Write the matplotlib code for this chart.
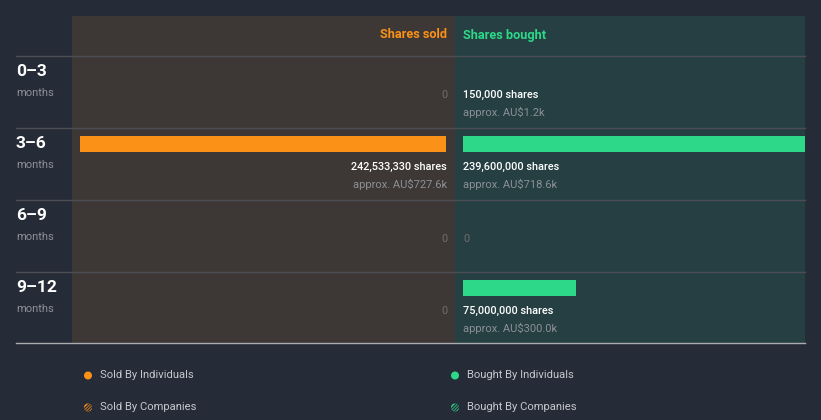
import matplotlib
matplotlib.use("Agg")
import matplotlib.pyplot as plt
from matplotlib.patches import Rectangle, Circle

plt.rcParams['font.family'] = ['Roboto', 'DejaVu Sans']

# ---- data ----
periods = ["0\u20133", "3\u20136", "6\u20139", "9\u201312"]
period_unit = ["months", "months", "months", "months"]
sold_shares = [0, 242533330, 0, 0]
sold_value = ["", "approx. AU$727.6k", "", ""]
bought_shares = [150000, 239600000, 0, 75000000]
bought_value = ["approx. AU$1.2k", "approx. AU$718.6k", "", "approx. AU$300.0k"]
legend_labels = ["Sold By Individuals", "Bought By Individuals",
                 "Sold By Companies", "Bought By Companies"]

# ---- style ----
W, H = 821, 420
BG = "#262B38"
SOLD_BG = "#3D3835"
BOUGHT_BG = "#263F43"
ORANGE = "#FB9117"
GREEN = "#2DD889"
GRID = "#4B4F55"
WHITE = "#FFFFFF"
GREY = "#8C9196"
DIM = "#6E6E6E"

fig = plt.figure(figsize=(W / 100, H / 100), dpi=100, facecolor=BG)

def px_axes(x0, x1, y0, y1, z=0):
    return fig.add_axes([x0 / W, 1 - y1 / H, (x1 - x0) / W, (y1 - y0) / H], zorder=z)

TOP, HDR, ROW, BOTTOM = 16, 56, 72, 343
SOLD_L, MID, BOUGHT_R = 72, 455, 805
ZERO_S, ZERO_B = 446, 463
FULL_PX = 366.0
vmax = max(max(sold_shares), max(bought_shares))
per_px = vmax / FULL_PX

# sold panel
axs = px_axes(SOLD_L, MID, TOP, BOTTOM, 1)
axs.set_xlim((ZERO_S - SOLD_L) * per_px, -(MID - ZERO_S) * per_px)
axs.set_ylim(BOTTOM, TOP)
axs.axis("off")
axs.add_patch(Rectangle((0, 0), 1, 1, transform=axs.transAxes, color=SOLD_BG, zorder=0))

# bought panel
axb = px_axes(MID, BOUGHT_R, TOP, BOTTOM, 1)
axb.set_xlim(-(ZERO_B - MID) * per_px, (BOUGHT_R - ZERO_B) * per_px)
axb.set_ylim(BOTTOM, TOP)
axb.axis("off")
axb.add_patch(Rectangle((0, 0), 1, 1, transform=axb.transAxes, color=BOUGHT_BG, zorder=0))

ycent = [HDR + ROW * i + 16 for i in range(len(periods))]
axs.barh(ycent, sold_shares, height=16, color=ORANGE, zorder=2)
axb.barh(ycent, bought_shares, height=16, color=GREEN, zorder=2)

# overlay in pixel coords
ov = px_axes(0, W, 0, H, 3)
ov.set_xlim(0, W)
ov.set_ylim(H, 0)
ov.axis("off")
ov.patch.set_alpha(0)

ov.text(ZERO_S + 1, 35, "Shares sold", color=ORANGE, fontsize=9.2, fontweight="bold",
        ha="right", va="center")
ov.text(ZERO_B, 35, "Shares bought", color=GREEN, fontsize=9.2, fontweight="bold",
        ha="left", va="center")

VAL_FS = 7.8
for i in range(len(periods)):
    T = HDR + ROW * i
    ov.plot([16, BOUGHT_R], [T, T], color=GRID, lw=1, zorder=1)
    ov.text(16, T + 15, periods[i], color=WHITE, fontsize=12.5, fontweight="bold",
            ha="left", va="center")
    ov.text(16, T + 36.5, period_unit[i], color=GREY, fontsize=8, ha="left", va="center")
    # sold
    if sold_shares[i] > 0:
        ov.text(ZERO_S + 1, T + 39, f"{sold_shares[i]:,} shares", color=WHITE, fontsize=VAL_FS,
                fontweight="medium", ha="right", va="center")
        ov.text(ZERO_S + 1, T + 56.5, sold_value[i], color=GREY, fontsize=8,
                ha="right", va="center")
    else:
        ov.text(ZERO_S + 1, T + 39, "0", color=DIM, fontsize=VAL_FS, ha="right", va="center")
    # bought
    if bought_shares[i] > 0:
        ov.text(ZERO_B, T + 39, f"{bought_shares[i]:,} shares", color=WHITE, fontsize=VAL_FS,
                fontweight="medium", ha="left", va="center")
        ov.text(ZERO_B, T + 56.5, bought_value[i], color=GREY, fontsize=8,
                ha="left", va="center")
    else:
        ov.text(ZERO_B, T + 39, "0", color=DIM, fontsize=VAL_FS, ha="left", va="center")

ov.plot([16, BOUGHT_R], [BOTTOM, BOTTOM], color="#A9ADB2", lw=1, zorder=1)

# legend
leg_pos = [(88, 375.5), (455, 375.5), (88, 407.5), (455, 407.5)]
leg_col = [ORANGE, GREEN, ORANGE, GREEN]
for k, (lx, ly) in enumerate(leg_pos):
    if k < 2:
        ov.add_patch(Circle((lx, ly), 4, color=leg_col[k], lw=0))
    else:
        c = Circle((lx, ly), 4, facecolor=leg_col[k], lw=0)
        ov.add_patch(c)
        for off in (-2.5, 0.5, 3.5):
            ln, = ov.plot([lx - 6 + off, lx + 6 + off], [ly + 6, ly - 6],
                          color=BG, lw=1.0, zorder=4)
            ln.set_clip_path(c)
    ov.text(lx + 12, ly, legend_labels[k], color="#C5C8CD", fontsize=8.1,
            ha="left", va="center")

fig.savefig("out.png", dpi=100, facecolor=BG)
